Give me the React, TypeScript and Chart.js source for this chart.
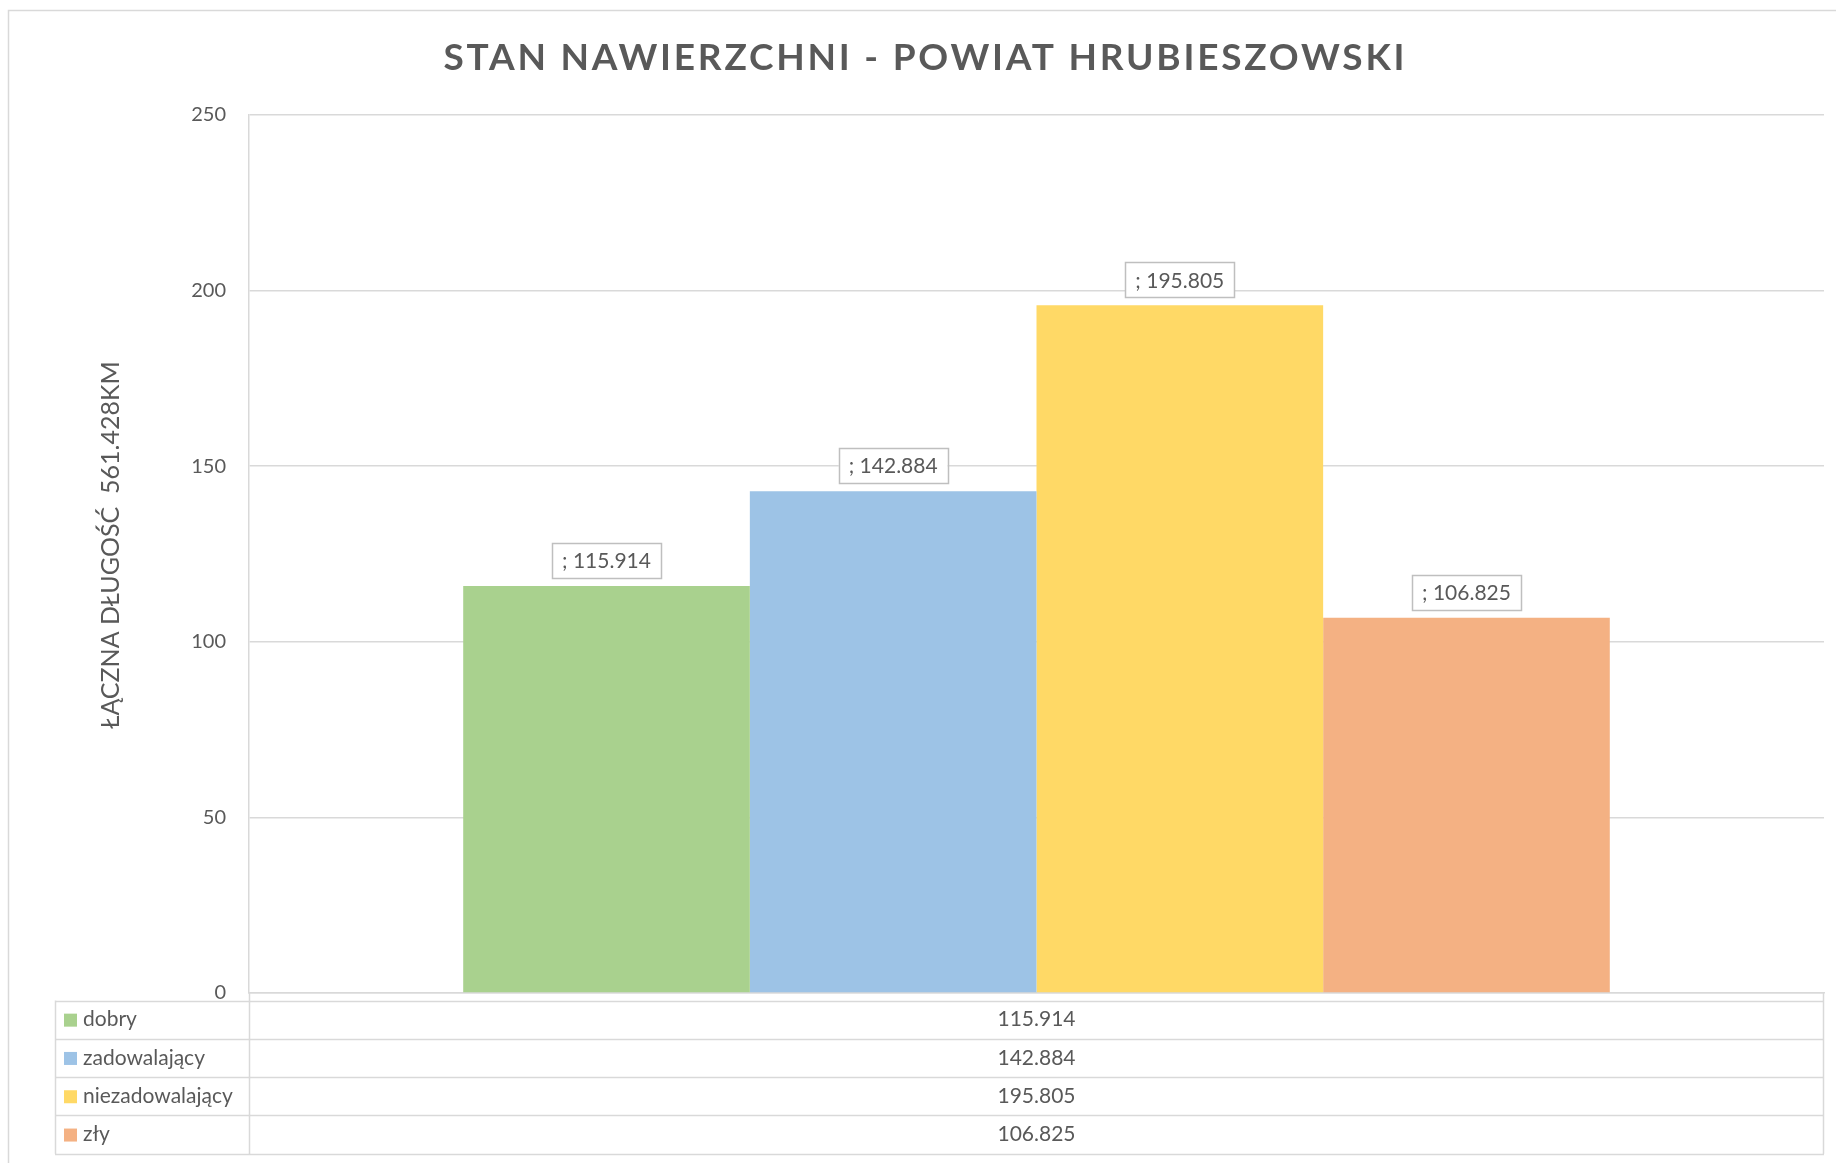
import React, { useEffect, useRef } from 'react';
import { Chart, registerables } from 'chart.js';

Chart.register(...registerables);

const TITLE = 'STAN NAWIERZCHNI - POWIAT HRUBIESZOWSKI';
const Y_TITLE = 'ŁĄCZNA DŁUGOŚĆ  561.428KM';
const CATEGORIES = ['dobry', 'zadowalający', 'niezadowalający', 'zły'];
const VALUES = [115.914, 142.884, 195.805, 106.825];
const VALUE_LABELS = ['115.914', '142.884', '195.805', '106.825'];
const COLORS = ['#A9D18E', '#9DC3E6', '#FFD966', '#F4B183'];
const Y_MIN = 0;
const Y_MAX = 250;
const Y_STEP = 50;

const TEXT = '#595959';
const LINE = '#d9d9d9';
const FONT = 'Lato, "Open Sans", sans-serif';

const W = 1836;
const H = 1163;

const decor = {
  id: 'decor',
  beforeDraw(chart: any) {
    const ctx = chart.ctx;
    ctx.save();
    ctx.fillStyle = '#ffffff';
    ctx.fillRect(0, 0, W, H);
    ctx.strokeStyle = LINE;
    ctx.lineWidth = 1.5;
    ctx.strokeRect(8.5, 10.5, W + 20, H + 20);
    ctx.restore();
  },
  afterDatasetsDraw(chart: any) {
    const ctx = chart.ctx;
    ctx.save();
    ctx.font = `21px ${FONT}`;
    ctx.textAlign = 'center';
    ctx.textBaseline = 'middle';
    chart.data.datasets.forEach((ds: any, i: number) => {
      const meta = chart.getDatasetMeta(i);
      const el = meta.data[0];
      if (!el) return;
      const label = '; ' + VALUE_LABELS[i];
      const tw = ctx.measureText(label).width;
      const bw = tw + 20;
      const bh = 35;
      const bx = el.x - bw / 2;
      const by = el.y - 8 - bh;
      ctx.fillStyle = '#ffffff';
      ctx.fillRect(bx, by, bw, bh);
      ctx.strokeStyle = '#bfbfbf';
      ctx.lineWidth = 1.5;
      ctx.strokeRect(Math.round(bx) + 0.5, Math.round(by) + 0.5, Math.round(bw), bh);
      ctx.fillStyle = TEXT;
      ctx.fillText(label, el.x, by + bh / 2 + 1);
    });
    ctx.restore();
  },
  afterDraw(chart: any) {
    const ctx = chart.ctx;
    const { left, right, bottom } = chart.chartArea;
    ctx.save();
    // Title
    ctx.fillStyle = TEXT;
    ctx.font = `bold 37px ${FONT}`;
    ctx.textAlign = 'center';
    ctx.textBaseline = 'middle';
    (ctx as any).letterSpacing = '0px';
    const w0 = ctx.measureText(TITLE).width;
    const sp = Math.max(0, (961 - w0) / (TITLE.length - 1));
    (ctx as any).letterSpacing = `${sp}px`;
    ctx.fillText(TITLE, 924 + sp / 2, 58);
    (ctx as any).letterSpacing = '0px';

    // Y axis title
    ctx.save();
    ctx.translate(111, 545);
    ctx.rotate(-Math.PI / 2);
    ctx.font = `25px ${FONT}`;
    ctx.fillText(Y_TITLE, 0, 0);
    ctx.restore();

    // Data table
    const tLeft = 55;
    const tTop = 1000.5;
    const rowH = 38.3;
    const tBottom = tTop + rowH * CATEGORIES.length;
    ctx.strokeStyle = LINE;
    ctx.lineWidth = 1.5;
    ctx.beginPath();
    for (let r = 0; r <= CATEGORIES.length; r++) {
      const y = Math.round(tTop + r * rowH) + 0.5;
      ctx.moveTo(tLeft, y);
      ctx.lineTo(right, y);
    }
    ctx.moveTo(tLeft + 0.5, tTop);
    ctx.lineTo(tLeft + 0.5, tBottom);
    ctx.moveTo(Math.round(left) + 0.5, bottom);
    ctx.lineTo(Math.round(left) + 0.5, tBottom);
    ctx.moveTo(Math.round(right) - 0.5, bottom);
    ctx.lineTo(Math.round(right) - 0.5, tBottom);
    ctx.stroke();

    ctx.font = `21px ${FONT}`;
    ctx.textBaseline = 'middle';
    CATEGORIES.forEach((cat, r) => {
      const cy = tTop + r * rowH + rowH / 2;
      ctx.fillStyle = COLORS[r];
      ctx.fillRect(64, cy - 6, 13, 13);
      ctx.fillStyle = TEXT;
      ctx.textAlign = 'left';
      ctx.fillText(cat, 83, cy);
      ctx.textAlign = 'center';
      ctx.fillText(VALUE_LABELS[r], (left + right) / 2, cy);
    });
    ctx.restore();
  },
};

export default function App() {
  const ref = useRef<HTMLCanvasElement | null>(null);
  useEffect(() => {
    if (!ref.current) return;
    const chart = new Chart(ref.current, {
      type: 'bar',
      data: {
        labels: [''],
        datasets: CATEGORIES.map((c, i) => ({
          label: c,
          data: [VALUES[i]],
          backgroundColor: COLORS[i],
          borderWidth: 0,
          categoryPercentage: 0.728,
          barPercentage: 1.0,
        })),
      },
      options: {
        animation: false,
        responsive: false,
        devicePixelRatio: 1,
        layout: { padding: { top: 115, right: 12, bottom: 170, left: 0 } },
        plugins: {
          legend: { display: false },
          tooltip: { enabled: false },
          title: { display: false },
        },
        scales: {
          x: {
            grid: { display: false },
            ticks: { display: false },
            border: { display: true, color: LINE, width: 1.5 },
            afterFit: (s: any) => { s.height = 0; },
          },
          y: {
            min: Y_MIN,
            max: Y_MAX,
            ticks: {
              stepSize: Y_STEP,
              color: TEXT,
              font: { family: FONT, size: 20 },
              padding: 23,
            },
            grid: { color: LINE, lineWidth: 1.5, drawTicks: false },
            border: { display: true, color: LINE, width: 1.5 },
            afterFit: (s: any) => { s.width = 249; },
          },
        },
      },
      plugins: [decor],
    });
    return () => chart.destroy();
  }, []);
  return (
    <div style={{ position: 'fixed', left: 0, top: 0, width: W, height: H, background: '#fff' }}>
      <canvas ref={ref} width={W} height={H} style={{ width: W, height: H, display: 'block' }} />
    </div>
  );
}
